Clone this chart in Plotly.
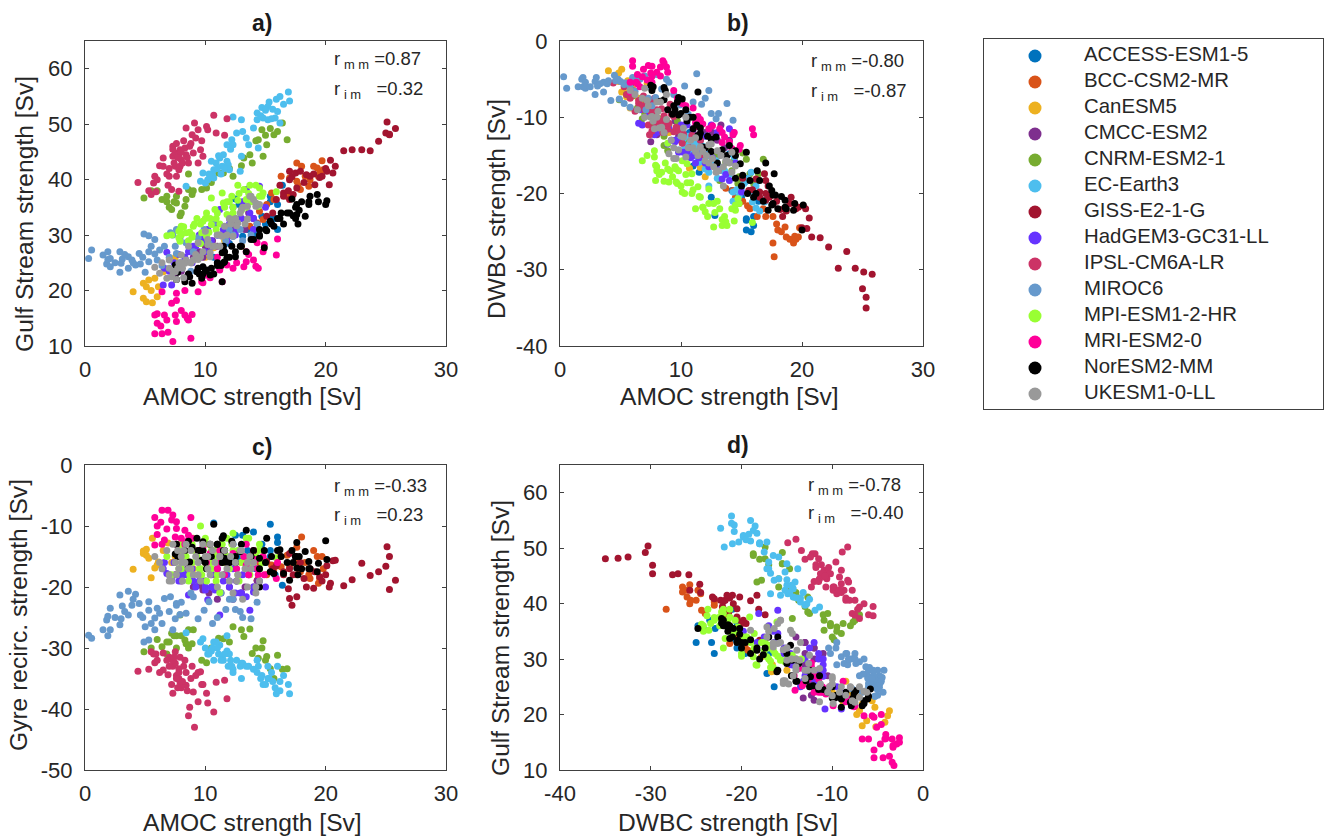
import plotly.graph_objects as go

W, H = 1325, 836
MODELS = ["ACCESS-ESM1-5","BCC-CSM2-MR","CanESM5","CMCC-ESM2","CNRM-ESM2-1","EC-Earth3","GISS-E2-1-G",
          "HadGEM3-GC31-LL","IPSL-CM6A-LR","MIROC6","MPI-ESM1-2-HR","MRI-ESM2-0","NorESM2-MM","UKESM1-0-LL"]
COLORS = ["#0072BD","#D95319","#EDB120","#7E2F8E","#77AC30","#4DBEEE","#A2142F",
          "#6633FF","#CC3366","#6699CC","#99FF33","#FF0099","#000000","#999999"]

access_amoc=[10.7,11,11.5,12,12.3,12.5,12.8,13.1,13.5,14,14.2,14.7,15,15.4,15.4,15.4,15.8,16,16,16.4]
access_gs=[26,25,27.4,28.5,29.8,36.5,35.5,29.8,31,30,31,33.4,32,37,33,36,33,35.5,31,39]
access_dwbc=[-12,-16.4,-17.2,-14,-14.9,-20.5,-22.9,-15,-17,-14.8,-19.6,-21.2,-20.5,-23.5,-23.3,-24.8,-25,-24.2,-23,-21]
access_gyre=[-9.5,-14,-16,-15.3,-13,-11.5,-15,-11.5,-14,-11,-17,-13,-16,-9.7,-15,-14,-18,-11.8,-12.7,-19.7]

bcc_amoc=[13.7,14.3,14.5,14.8,15.1,15.5,15.7,16.3,16.8,17,17.6,17.6,17.9,18,18.3,18.6,18.7,19,19.3,19.4,19.5,19.7,19.8,17.7]
bcc_gs=[31.6,32.2,34.3,32.8,35.5,37.6,36.4,40.6,37,40.3,43,39.7,38.2,42.4,40.6,38.8,40,42.4,42.1,40.6,41.2,43.4,41.8,39]
bcc_dwbc=[-19.3,-19.6,-20.5,-21.3,-21,-21.6,-22,-23,-22,-23,-26.5,-23,-24,-24.8,-25,-24.4,-25.7,-26,-26.5,-25.6,-26,-25.7,-24.5,-28.3]
bcc_gyre=[-17,-18.9,-16,-15.3,-18,-16.4,-17,-16.7,-14.8,-16.7,-13.5,-18,-17.5,-11.8,-16,-18,-18.6,-14,-15,-19.4,-18.6,-15,-17,-16]

can_amoc=[4,4.85,5.1,5.6,6,4.85,5.3,5.8,5.5,5.1,6.1,6.5,6.9,7.5,7.2,8,9,10,10.7,11.6,12,13]
can_gs=[19.8,18.6,18,17.8,18.9,21.3,21.9,22.2,20,20.7,20.7,23.4,23.7,26,22.5,24,25.5,26,27.7,29,30.4,28]
can_dwbc=[-3.9,-4.2,-6.7,-5.2,-6.2,-5.3,-6.7,-8.8,-7.3,-3.7,-7,-7.5,-7.8,-8.5,-5.6,-10,-12,-13,-16.7,-16.6,-17.8,-15]
can_gyre=[-17.1,-14.1,-13.8,-12,-16.4,-14.5,-15.3,-16.9,-18.5,-14.8,-15.9,-14,-12.8,-15,-16,-15,-17,-16,-18,-16,-17,-16]

cmcc_amoc=[7.5,8,8.5,9,9.5,9.8,10,10.3,10.6,11,11.3,11.6,12,12.3,12.6,13,13.3,13.6,14,14.3]
cmcc_gs=[23,23.5,22.6,26,27,26,28,27,29,28,30,31,30,31,32,33,31,34,33,32]
cmcc_dwbc=[-13.2,-12.3,-12,-11.5,-10.5,-12.5,-13,-11,-13,-12,-14,-13,-12,-15,-12,-13,-11,-14,-13,-12]
cmcc_gyre=[-18,-19,-17,-20,-19.7,-20.5,-19,-21,-20,-22,-21,-18,-20,-22,-19,-21,-20,-18,-20,-19]

cnrm_amoc=[4.9,6,6.4,6.8,7.2,7.6,7.9,8.3,8.4,8.6,8.6,8.9,9.7,10.1,7.6,11.1,11.5,12.3,13.2,13.9,13.7,14.8,15.1,14.4,14.7,15.4,16,16.4,16.8,15.7,5.5,6.8,7,7.4,8,9,10.5,12,13,14.2,15]
cnrm_gs=[36.7,38,36.4,36,34.6,37,33.5,35.2,36.4,41,38.2,37.3,38.2,38.5,35.8,41.2,41.2,40.6,43.9,43,44.5,44.2,46.3,47.2,49,49.2,48.7,50.2,47.2,48.1,38,37,35,36,34,38,39.5,42,42.5,47,48]
cnrm_dwbc=[-7.7,-7.2,-8.8,-10.2,-9,-10.9,-9.8,-10.9,-10.2,-13.7,-12.5,-14.4,-10.5,-12.7,-9.5,-12.7,-14.2,-13.7,-18.3,-15.9,-15.9,-17.8,-14.7,-15.5,-18.7,-15.5,-18.7,-17.4,-15.5,-17.4,-7,-7.5,-9.5,-8,-10,-11,-13,-14,-15,-17,-18]
cnrm_gyre=[-30.6,-28.6,-29.8,-29,-27.6,-28,-24.6,-28.7,-29.3,-30,-27,-29.3,-32,-32.4,-30,-28.4,-28.5,-26.5,-28.1,-30.9,-26.9,-28.8,-31.4,-31.7,-30,-33.4,-31.2,-33.5,-33.4,-35,-30,-31,-29,-28,-28,-27,-30,-29,-27,-30,-32]

ec_amoc=[8.4,9.6,9.8,10.0,10.2,10.7,10.7,10.5,11.2,11.4,11.5,11.8,11.9,12.0,12.9,13.0,11.8,12.2,12.3,12.6,13.1,13.6,14.0,14.4,12.3,13.0,14.3,14.3,14.7,14.8,15.2,15.2,15.6,15.8,15.9,16.0,16.2,16.5,16.9,17.0,10.6,10.9,11.1,11.3,11.6,12.1,15,15.3,15.5,16.2,14.6,13.4,11,10.3]
ec_gs=[38.8,39.7,41.2,39.4,40,40.3,41.8,43.3,43.9,42.4,44.5,43.3,42.7,41.8,41.5,44.2,46.3,47.2,46.3,48.4,48.7,46.3,49.3,45.7,51.3,50.8,52,50.8,53,51.1,53.2,50.8,52.7,51.1,54.5,52.3,50.2,53.6,55.8,54.2,40.8,43,44.3,41,42,45.5,52.5,54,51,55,51.5,47.5,42,41]
ec_dwbc=[-11.9,-13,-14.3,-11.4,-12.8,-13.5,-14.9,-14.5,-14.1,-15.2,-15.9,-15,-14.3,-16.8,-15.7,-16.4,-13.8,-15,-17.2,-15.9,-16.5,-17,-17.5,-15.2,-19,-18,-19.8,-21,-20.8,-20.3,-18.7,-18,-18.3,-17.2,-21.1,-19.8,-21.9,-22.3,-21.1,-20.8,-12.5,-14.4,-15,-13.5,-14.7,-16.8,-19.2,-18.5,-18,-19,-19.5,-17,-13.2,-13.9]
ec_gyre=[-27.5,-29,-28.5,-30,-31,-29,-32,-30.5,-29.5,-31.5,-32,-30.5,-33,-31,-33,-32.5,-28,-33,-33.5,-32,-32.5,-33,-33.5,-33,-34,-35,-32,-34,-34.5,-36,-33,-35,-35.5,-36.5,-37.5,-33,-35.5,-34.5,-36,-37.5,-30,-29,-31,-32,-31,-32,-36,-35,-34,-37,-35,-33,-30,-31]

giss_amoc=[15.1,15.6,15.9,16.2,16.5,16.5,16.9,17,17,17,17.2,17.3,17.5,17.6,17.9,18.2,18.4,18.7,19,19.1,19.5,19.7,20,20.1,20.3,20.4,20.6,20.8,21.5,22.2,23,23.7,24.4,25,25.3,25.3,25.8,25.1]
giss_gs=[33.4,34,36.4,39,37.6,37,38,41.5,40,36.4,40.5,37.3,41.2,38.5,41.5,39.5,40.9,40.6,41,39.1,40.4,40.6,42,41.5,39.1,43.5,41.2,42.4,45.2,45.4,45.4,45.2,46.9,48.4,48.2,48.1,49.2,50.4]
giss_dwbc=[-18,-19.6,-19.5,-18.1,-20.5,-19.8,-17.4,-18.3,-20.9,-20,-19,-20.5,-20.2,-21.4,-21,-22.1,-23,-22.3,-21.3,-20.5,-22,-21.8,-24.5,-21.6,-22,-24.6,-23.2,-25.7,-25.8,-27,-29.8,-27.6,-29.8,-32.5,-33.6,-35,-30.6,-30.3]
giss_gyre=[-15.8,-17,-16.5,-15,-18,-17.5,-20.3,-14.5,-21.9,-17,-23,-18,-15,-21.6,-16,-18.6,-20,-17,-20.2,-17.5,-18.3,-19,-18,-16.5,-20,-19.4,-15.7,-15.6,-19.8,-18.8,-16.1,-18.1,-17.5,-16.6,-15,-20.4,-18.9,-13.4]

had_amoc=[6.5,6.6,6.8,7,7.2,7.4,7.8,8,8.3,8.6,8.9,9.2,9.5,9.8,10,10.2,10.5,10.8,11,11.2,11.5,11.8,12,12.3,12.6,12.9,13.1,13.4,13.7,14,14.5,15,9,10,11,12,13,14,8,9.5,10.5,12.5]
had_gs=[21,24,26.9,23.5,21,25,26.5,24,26,27,25,28,26,29.5,27,31,29,32,30,34.6,31,29,33,35,31,33,36,38.2,34,33,38.8,35,28,29,30,32,33,31,25,30,28,30]
had_dwbc=[-10.8,-9,-11,-8.7,-9,-9.5,-12.3,-11,-11.8,-12,-13.5,-13,-13.2,-14.6,-13,-14.6,-14.5,-15.3,-15,-16,-15.3,-14.5,-16,-16.5,-15.3,-16.4,-17,-18.1,-17.5,-18.3,-16,-19.8,-11.5,-11,-11.5,-12.5,-12,-11.5,-12,-13,-11,-11]
had_gyre=[-17,-16,-17.8,-18,-18.9,-16,-19,-17,-18,-21.3,-17,-20,-18,-19,-20.5,-22.1,-18,-20.5,-17,-24.6,-19,-18,-20,-17,-19,-21,-18,-21.6,-23.8,-20.8,-19,-20,-19,-20,-18,-19,-21,-20,-18,-19,-20,-21]

ipsl_amoc=[4.4,5.3,5.5,5.7,5.8,6.0,6.5,6.5,6.9,7.0,7.2,7.3,7.3,7.5,7.5,7.6,7.8,7.8,7.9,7.9,8.0,8.3,8.4,8.4,8.6,8.7,8.9,9.0,9.1,9.4,9.4,9.6,9.7,9.8,10.1,10.2,10.7,10.9,11.6,11.8,7.3,7.6,7.8,8,8.2,7.4,8.1,8.5,8.8,7,6.8,6.2,5.9,7.7,9.2]
ipsl_gs=[39.5,38,37.3,39.4,40.6,40,43.9,42.4,39,40.6,38.2,46,44.2,44.8,42.4,40.6,37.9,41.8,45.4,42.4,43.6,45.7,49.3,44.5,43,46,48.1,44.8,50.2,49,43,45.4,47,44.2,49.6,49,51.6,48.4,48,51,45.5,46.5,44.5,45,47,43,43,44,46.5,42,41,42.5,37.8,44,47.5]
ipsl_dwbc=[-5.5,-6,-7,-7,-7.5,-6.5,-8.2,-7.8,-7.2,-8.5,-7.8,-9,-8.3,-9.2,-8.7,-8.1,-7.5,-9.5,-10.2,-9.9,-9,-10.5,-8.9,-10.6,-9.8,-10.9,-11.5,-10.8,-8.3,-11.9,-9.9,-11.3,-11.8,-11.5,-13.4,-12.2,-14,-12.4,-13,-14.9,-11,-11.8,-11.4,-10.8,-11.2,-12.3,-10.7,-12,-10.4,-9,-8.5,-9.2,-5.5,-11.5,-9.6]
ipsl_gyre=[-33.8,-33.5,-30.6,-31,-32.4,-32,-33.6,-30.8,-34.4,-31.5,-36,-37.4,-33,-30.6,-32.5,-34.5,-35,-33.4,-35.6,-31.5,-36.5,-32,-36.1,-34,-41.1,-39.7,-33,-37.2,-43,-38.8,-34,-33.9,-36,-36,-37.4,-39,-40.5,-35.6,-35.3,-38.3,-32,-35,-34,-36,-33,-31.5,-35.5,-37,-35,-33,-32,-34,-31,-36.5,-34.5]

miroc_amoc=[.3,.55,1.5,1.8,1.9,1.9,2.1,2.1,2.9,2.9,3,3.1,3.6,3.6,3.9,4.2,4.5,4.6,4.9,5.3,5.3,5.3,5.8,5.8,6.2,6.6,7.1,7.5,7.6,7.6,7.9,8.4,9,9.4,9.9,10.3,10.6,11,11.3,11.7,12,12.3,12.5,12.9,13.1,13.8,14.3,4,4.8,5.5,6,6.4,7,8,8.8,3.3,2.5,5,7.3]
miroc_gs=[25.8,27.3,26.4,24.8,27,25.6,25.8,24.3,27,23.3,24.9,25.7,24,26.1,25.5,24.6,26.7,24.8,30.2,25.2,27,29.9,29.2,26.6,27.3,28,30.4,28,31,26.7,29.2,28.6,27,29.5,31,28.5,32,30,28,29,31,30,33,31,29,30,32,25,26,28,25.5,24.5,26,24,23.5,26.5,25,23.3,30]
miroc_dwbc=[-4.7,-6.2,-6,-5,-4.8,-6,-5.4,-6.2,-7,-5.3,-4.8,-5.9,-6.7,-5.4,-5.6,-7.8,-4.5,-5.2,-7.6,-5.7,-5.5,-8.2,-8.7,-6.1,-6.6,-5,-9,-6,-8.5,-4.6,-7.4,-6.3,-5.4,-7,-8.4,-5.9,-9.6,-8,-4.3,-8.3,-7.5,-6.5,-9.5,-10.2,-9.5,-8.2,-10.4,-5.2,-5,-5.5,-4.8,-5,-4.6,-4.4,-5,-5.6,-6,-5.3,-7.5]
miroc_gyre=[-27.9,-28.4,-27,-25.4,-28,-24.8,-27,-23.5,-21.3,-26.2,-25.2,-23.1,-24.6,-20.7,-23,-21.2,-22.7,-24.6,-29,-22.4,-23.8,-28.7,-27,-25.1,-24.3,-21.9,-21.6,-25.2,-22.7,-23,-24.5,-24.3,-21.6,-25.2,-23.8,-22.4,-26,-25,-21,-23.7,-22,-22,-23.7,-24,-25,-25.2,-22.5,-22,-25,-26,-23.5,-26,-24,-22.5,-21,-24,-25,-26.5,-27]

mpi_amoc=[6.8,7.8,7.8,7.9,7.9,8,8,8.4,8.6,8.9,8.9,9,9.3,9.5,9.6,9.7,9.8,10.1,10.1,10.3,10.5,10.5,10.8,10.9,10.9,11.2,11.4,11.5,11.8,11.8,12,12.3,12.3,12.7,12.7,13.2,13.4,13.4,13.7,13.8,14.4,14.5,14.5,14.7,14.8,15.9,8.2,8.7,9.1,9.6,10,10.4,11,11.6,12.2,12.8,13,13.6,14.2,7.2]
mpi_gs=[29.9,30.7,29.5,28.9,31,31.6,30,30.4,29,30,29.6,31.6,33,28.5,28.5,30.4,32.5,34,29.8,30.5,31.9,36.7,34.6,31,33,32,37.6,35.8,33.7,36,36,34,35,39,36.3,38.2,36.4,35,39,36,35.2,38.5,37,37,37.6,37.8,31.5,30.5,32,32,33,33,34,35,37,37.5,34.5,37.5,39,30]
mpi_dwbc=[-15.7,-14.4,-15.2,-18.3,-16.3,-16.5,-17,-17.2,-18.4,-13.4,-16.8,-18.5,-17.8,-16.5,-16.8,-18.7,-17,-19.8,-15.7,-20,-18.6,-16.1,-18.6,-20,-17.4,-22,-19.1,-20.4,-21.8,-21.8,-22.4,-19.4,-21.3,-21.3,-24.4,-22,-23.4,-24.2,-23.7,-24.2,-23.6,-22.2,-21.5,-20.7,-21.3,-23.8,-17.5,-16,-17,-18.5,-19,-17.5,-19.5,-20.5,-23,-22.5,-21,-23,-22,-15]
mpi_gyre=[-15,-13,-17,-14,-17,-13,-17,-15,-19,-13,-16,-12,-15,-17,-10,-18,-14,-16,-19,-13,-14,-17,-14,-15,-19,-20.9,-13,-16,-15,-12,-17,-14,-11.2,-18,-14,-15,-16,-12,-18,-16,-14,-17,-13,-16,-14,-15.2,-16,-18,-14,-17,-12,-16,-18,-14,-13,-19,-16,-12,-15,-18]

mri_amoc=[5.8,5.8,6,6,6.3,6.4,6.4,6.6,6.8,6.9,7.2,7.3,7.5,7.6,7.6,7.6,8,8.3,8.3,8.6,8.5,8.8,8.9,9.4,9.7,9.8,10.1,10.4,11,11.2,11.2,11.4,11.6,11.8,12.3,12.6,13.2,13.4,13.4,13.6,14,14.2,14.3,14.4,14.8,14.9,15.9,16]
mri_gs=[12.2,15.6,14.1,15.8,13.6,12.2,19.8,15.6,14.7,12.5,17.7,10.8,15.6,14.4,18.2,19.5,16.4,15.6,20,14.7,15,11.4,15.7,19.8,21.6,21.4,22.8,22.3,26,23.7,24,21.6,25,24.6,24,25,24.3,25.2,27,26.5,25.5,24.4,28.6,24,27,28.3,26.4,29.3]
mri_dwbc=[-5.4,-6.7,-3.3,-2.6,-5.4,-4.4,-5.6,-6,-4.7,-3.7,-5.1,-3.2,-4.2,-3.3,-4.6,-5.4,-4.1,-3.4,-4.6,-2.9,-2.6,-3.4,-4.1,-6.5,-7.5,-7.6,-8.2,-8.5,-8.8,-10.7,-11.2,-9.9,-10.3,-10.9,-11.5,-11.1,-11.5,-13.3,-12,-12.6,-13.2,-14.1,-12.3,-12,-14.2,-13.7,-11.5,-12.3]
mri_gyre=[-8.6,-13.1,-11.4,-10,-9.4,-7.4,-13,-12.3,-10.5,-7.4,-9,-8.2,-11.8,-9.3,-10.4,-13,-12,-10.7,-13,-11.5,-12.5,-8.6,-12,-14,-14,-13.5,-16,-14.5,-17,-14,-16,-15.5,-18,-16,-14.5,-17,-15,-16.4,-13,-18,-14,-15.5,-17,-18,-15,-18,-18.6,-16]

nor_amoc=[7.5,7.6,7.7,8.3,8.6,8.6,8.7,8.9,9.3,9.4,9.7,9.8,9.8,10.1,10.4,10.7,11,11.3,11.4,11.4,11.5,11.6,11.6,11.8,12.2,12.5,12.9,13.4,13.8,14,14.5,14.5,14.9,15.1,15.4,15.7,16.2,16.3,16.5,17,17.3,17.5,17.6,17.6,17.7,17.8,18.3,18.6,18.6,18.7,19.3,19.4,20.1,20,15,15.5,16,14.5,13,12.5,12,11.5,11,10.5,10,9.5,17.5,18,16.8,17.2]
nor_gs=[24.6,22,23.3,21.6,22.8,23,22.5,21.3,23.4,24,22.2,24.3,23,23.7,22.8,23,25,24.5,21.6,26.8,28,27,25.2,26,28,26.1,28,27,29.2,29.2,31,29.8,27.7,30.8,32.5,31.6,33,34,32,34,33.5,33,35.5,33.7,32,34.5,33.4,36,35.5,37,37.3,36,36.2,35.5,31,32,33,30,28,27,26,25,24.5,24,23.5,23,35,36,34,36.5]
nor_dwbc=[-5.8,-6.5,-6,-7.9,-6.1,-7.7,-6.5,-9,-9.6,-8.5,-8,-7.4,-9.7,-7.6,-9,-10,-10,-11,-6.7,-12.4,-12.6,-11.4,-12.1,-13.9,-12.5,-12.9,-12.6,-14.3,-15,-13.7,-15,-14.4,-16.1,-17.6,-14.6,-18.3,-20,-17,-18.3,-16,-19,-19.6,-20.2,-21.3,-17.4,-20.2,-20.4,-21.8,-20.9,-22,-22.2,-21.3,-21.5,-24.8,-19,-20,-20.5,-18,-16,-14.5,-14,-12.5,-11.5,-10.5,-9.5,-9,-21.5,-22,-21,-22.2]
nor_gyre=[-14.6,-13,-15,-14,-16,-12.5,-15.9,-13.5,-12,-14,-15.6,-12.6,-14,-17,-13,-9.7,-13,-15,-16,-12,-11.6,-15.3,-14,-16,-12.5,-16,-14.2,-10.7,-15,-14,-15.3,-20,-14,-12,-17.5,-17.8,-13.9,-15,-17.8,-18.9,-16,-15,-12.7,-16.9,-18,-15,-14.2,-15.8,-17,-17,-17.5,-16.1,-15.5,-12.4,-16,-15,-14,-17,-13,-15,-16,-14,-13,-15,-16,-14,-15,-17,-16,-14]

uk_amoc=[5.8,6.2,6.4,6.8,7,7.2,7.3,7.5,7.6,7.7,7.8,8,8.1,8.3,8.4,8.6,8.8,9,9.2,9.4,9.6,9.8,10,10.2,10.4,10.6,10.8,11,11.2,11.4,11.6,11.8,12,12.1,12.3,12.5,12.7,12.9,13.1,13.3,13.5,13.7,14,14.2,14.5,13.8,14.2,13,13.5,12.6,12.3,9.4,10.2,8.8,8.2,8,7,10.4,11.2]
uk_gs=[24.2,23.1,25,22.2,25.5,22.5,23.5,23.4,22,24,25,26.4,24,24.9,25.5,28,25,25.5,26.5,28.6,26.1,27,30.7,29.2,26.1,28,28,30,30,29.8,31.6,30,33,32,32.8,33,32.2,34,35,32,35.2,37,36.4,35.2,35.5,37,35.8,34.6,32.9,31.7,29.8,25.6,28.3,25,22.3,25,24,26.8,28]
uk_dwbc=[-6.5,-7,-9,-7.5,-10,-7.8,-8.5,-10,-9.9,-10.5,-11.5,-10,-9.2,-8,-11.3,-12,-7,-14.8,-13,-14,-15.4,-14.3,-12.5,-12.6,-15.2,-14,-13,-14,-14.5,-15,-13.9,-14.5,-15.7,-15,-16,-13.5,-16.5,-17.2,-17,-15,-19,-15.7,-16,-14.6,-16.4,-15.7,-17.2,-14.4,-16.5,-15.4,-13.6,-15.4,-11.4,-10.3,-11.4,-8,-6.2,-10,-12.7]
uk_gyre=[-15,-16,-17,-14,-18,-19,-13,-16,-18,-14,-17,-15,-19,-16,-13,-17,-14,-18,-15,-16,-19,-13,-15,-17,-18,-14,-16,-20,-15,-18,-14,-17,-19,-15,-21,-16,-18,-14,-22,-17,-20,-15,-16,-21,-19,-17,-20,-14,-16,-19,-13,-18,-15,-17,-14,-16,-19,-13,-15]

AMOC=[access_amoc,bcc_amoc,can_amoc,cmcc_amoc,cnrm_amoc,ec_amoc,giss_amoc,had_amoc,ipsl_amoc,miroc_amoc,mpi_amoc,mri_amoc,nor_amoc,uk_amoc]
GS=[access_gs,bcc_gs,can_gs,cmcc_gs,cnrm_gs,ec_gs,giss_gs,had_gs,ipsl_gs,miroc_gs,mpi_gs,mri_gs,nor_gs,uk_gs]
DWBC=[access_dwbc,bcc_dwbc,can_dwbc,cmcc_dwbc,cnrm_dwbc,ec_dwbc,giss_dwbc,had_dwbc,ipsl_dwbc,miroc_dwbc,mpi_dwbc,mri_dwbc,nor_dwbc,uk_dwbc]
GYRE=[access_gyre,bcc_gyre,can_gyre,cmcc_gyre,cnrm_gyre,ec_gyre,giss_gyre,had_gyre,ipsl_gyre,miroc_gyre,mpi_gyre,mri_gyre,nor_gyre,uk_gyre]

FONT = "Liberation Sans, Arial, sans-serif"
AXC = "#404040"
TXT = "#262626"
TICK = 22
LAB = 24.6

AMOC_T=[0,10,20,30]; GS_T=[10,20,30,40,50,60]; DW_T=[-40,-30,-20,-10,0]; GY_T=[-50,-40,-30,-20,-10,0]
# title, x data, y data, x label, y label, x range, y range, x ticks, y ticks, box (l,r,t,b), r values
PANELS = [
 ("a)",AMOC,GS,"AMOC strength [Sv]","Gulf Stream strength [Sv]",[0,30],[10,65],AMOC_T,GS_T,(85,446,41,346),"0.87","0.32"),
 ("b)",AMOC,DWBC,"AMOC strength [Sv]","DWBC strength [Sv]",[0,30],[-40,0],AMOC_T,DW_T,(560,923,41,346),"-0.80","-0.87"),
 ("c)",AMOC,GYRE,"AMOC strength [Sv]","Gyre recirc. strength [Sv]",[0,30],[-50,0],AMOC_T,GY_T,(85,446,465,770),"-0.33","0.23"),
 ("d)",DWBC,GS,"DWBC strength [Sv]","Gulf Stream strength [Sv]",[-40,0],[10,65],DW_T,GS_T,(560,923,465,770),"-0.78","-0.40"),
]
# pixel anchors of the free texts: title(x,y), xlabel(x,y), ylabel(x,y), r text(x,y1,y2)
TEXT_POS = [
 ((262,23),(252,397),(25,214),(332,60,90)),
 ((738,23),(729,397),(496,209),(809,62,92)),
 ((262,447),(252,822),(18,615),(332,487,516)),
 ((738,445),(728,822),(500,638),(806,486,514)),
]

def px(x,y):
    return dict(xref="paper",yref="paper",x=x/W,y=1-y/H,showarrow=False)

fig = go.Figure()
layout = dict(width=W, height=H, autosize=False, margin=dict(l=0,r=0,t=0,b=0),
              paper_bgcolor="white", plot_bgcolor="white", showlegend=False,
              font=dict(family=FONT, color=TXT), annotations=[])

def axis(rng, ticks, dom, anchor, standoff):
    return dict(range=rng, domain=dom, anchor=anchor, tickvals=ticks, ticktext=[str(t) for t in ticks],
                showgrid=False, zeroline=False, showline=True, linecolor=AXC, linewidth=1.2, mirror="ticks",
                ticks="inside", ticklen=3.5, tickcolor=AXC, tickwidth=1, automargin=False,
                ticklabelstandoff=standoff, tickfont=dict(family=FONT,size=TICK,color=TXT))

for n,(ttl,xs,ys,xl,yl,xr,yr,xt,yt,(l,r,t,b),rmm,rim) in enumerate(PANELS,1):
    xn = "x" if n==1 else f"x{n}"
    yn = "y" if n==1 else f"y{n}"
    layout["xaxis" if n==1 else f"xaxis{n}"] = axis(xr,xt,[l/W,r/W],yn,3)
    layout["yaxis" if n==1 else f"yaxis{n}"] = axis(yr,yt,[1-b/H,1-t/H],xn,7)
    for i,m in enumerate(MODELS):
        fig.add_trace(go.Scatter(x=xs[i],y=ys[i],mode="markers",name=m,xaxis=xn,yaxis=yn,
                                 marker=dict(color=COLORS[i],size=7,line=dict(width=0))))
    tp,xp,yp,(rx,ry1,ry2) = TEXT_POS[n-1]
    layout["annotations"] += [
        dict(text=f"<b>{ttl}</b>",font=dict(size=23,family=FONT,color="#1a1a1a"),xanchor="center",yanchor="middle",**px(*tp)),
        dict(text=xl,font=dict(size=LAB,family=FONT,color=TXT),xanchor="center",yanchor="middle",**px(*xp)),
        dict(text=yl,font=dict(size=LAB,family=FONT,color=TXT),textangle=-90,xanchor="center",yanchor="middle",**px(*yp)),
        dict(text=f"r\u2009<sub>m m</sub>\u00a0={rmm}",font=dict(size=18.5,family=FONT,color=TXT),xanchor="left",yanchor="middle",align="left",**px(rx,ry1)),
        dict(text=f"r\u2009<sub>i m</sub>\u00a0\u00a0\u00a0={rim}",font=dict(size=18.5,family=FONT,color=TXT),xanchor="left",yanchor="middle",align="left",**px(rx,ry2)),
    ]

# legend panel drawn as its own small axes
LX, LR, LT, LB = 984, 1323, 39, 409
LEG_MARK_X = 51
LEG_TEXT_X = 100
layout["xaxis5"] = dict(domain=[LX/W,LR/W],range=[0,LR-LX],anchor="y5",showticklabels=False,ticks="",showgrid=False,
                        zeroline=False,showline=True,mirror=True,linecolor=AXC,linewidth=1)
layout["yaxis5"] = dict(domain=[1-LB/H,1-LT/H],range=[13.577,-0.654],anchor="x5",type="category",categoryorder="array",
                        categoryarray=MODELS,showticklabels=False,ticks="",showgrid=False,zeroline=False,
                        showline=True,mirror=True,linecolor=AXC,linewidth=1)
for i,m in enumerate(MODELS):
    fig.add_trace(go.Scatter(x=[LEG_MARK_X],y=[m],mode="markers",name=m,xaxis="x5",yaxis="y5",
                             marker=dict(color=COLORS[i],size=13,line=dict(width=0))))
fig.add_trace(go.Scatter(x=[LEG_TEXT_X]*len(MODELS),y=MODELS,text=MODELS,mode="text",textposition="middle right",
                         xaxis="x5",yaxis="y5",textfont=dict(family=FONT,size=20.4,color=TXT)))

fig.update_layout(**layout)
fig.write_html("out.html", config={"displayModeBar":False}, post_script="document.body.style.margin='0';")
